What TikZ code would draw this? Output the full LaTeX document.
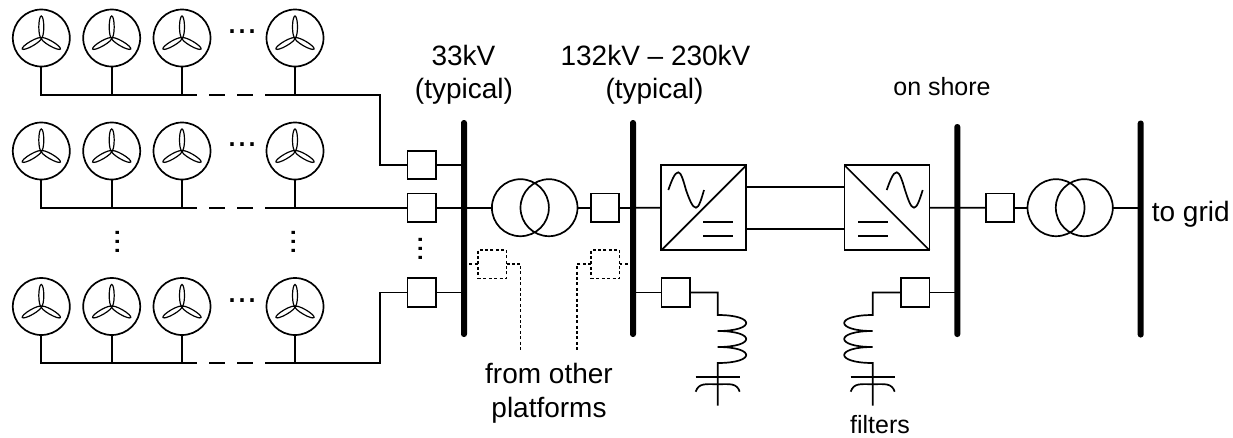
\documentclass[tikz,border=0pt]{standalone}
\usepackage{fontspec}
\setmainfont{Liberation Sans}
\usetikzlibrary{positioning,calc}

\begin{document}
\begin{tikzpicture}[x=1pt, y=-1pt, line width=1.7pt,
  wtg/.style={circle, draw, minimum size=57pt, inner sep=0pt, outer sep=0pt},
  blade/.style={line width=1.2pt},
  brk/.style={rectangle, draw, minimum size=28.5pt, inner sep=0pt, outer sep=0pt},
  brkoff/.style={brk, otherline},
  otherline/.style={dash pattern=on 3pt off 2.4pt, line width=1.5pt},
  xfmr/.style={circle, draw, minimum size=57pt, inner sep=0pt, outer sep=0pt},
  conv/.style={rectangle, draw, minimum size=85pt, inner sep=0pt, outer sep=0pt},
  busbar/.style={rectangle, fill=black, rounded corners=2.8pt, minimum width=6pt, inner sep=0pt, outer sep=0pt},
  lab/.style={inner sep=0pt, font=\fontsize{28}{28}\selectfont},
  labsm/.style={inner sep=0pt, font=\fontsize{25}{25}\selectfont},
  hdots/.style={inner sep=0pt, anchor=base, font=\fontsize{36}{36}\selectfont},
  vdots/.style={inner sep=0pt, anchor=base, rotate=90, font=\fontsize{33}{33}\selectfont}]
\useasboundingbox (0,0) rectangle (1233,437);

% ---- wind turbine rows
\foreach \r/\y/\b in {1/38/94.7, 2/151/207.7, 3/306.5/363} {
  \foreach \c/\x in {1/41.3, 2/111.7, 3/182, 4/295} {
    \node[wtg] (w\r\c) at (\x,\y) {};
    \foreach \a in {90,210,330}
      \draw[blade] ($(w\r\c.center)+(\a:11pt)$) circle [x radius=11pt, y radius=2.5pt, rotate=\a];
  }
  \coordinate (fl\r) at (197,\b);
  \coordinate (fr\r) at (266,\b);
  \node[hdots] (dots\r) at (242,\y-4.5) {...};
  \draw (w\r1.south) |- (fl\r);
  \draw (w\r2.south) -- (w\r2.south |- fl\r);
  \draw (w\r3.south) -- (w\r3.south |- fl\r);
  \draw (w\r4.south) -- (w\r4.south |- fr\r);
  \draw[dash pattern=on 16pt off 12pt, dash phase=16pt] (fl\r) -- (fr\r);
}
\node[vdots] (dv1) at (119.4,242) {...};
\node[vdots] (dv2) at (295.4,242) {...};
\node[vdots] (dv3) at (422.7,249) {...};

% ---- buses
\node[busbar, minimum height=217pt] (bus1) at (464,228.5) {};
\node[busbar, minimum height=217pt] (bus2) at (633,228.5) {};
\node[busbar, minimum height=213pt] (bus3) at (957.3,230.5) {};
\node[busbar, minimum height=217pt] (bus4) at (1140.7,229) {};

% ---- platform side
\node[brk] (cb1) at (421.7,165) {};
\node[brk] (cb2) at (421.7,207.7) {};
\node[brk] (cb3) at (421.7,292.5) {};
\coordinate (j1) at (379.7,165);
\coordinate (j3) at (379.7,292.5);
\draw (fr1) -| (j1) -- (cb1.west);
\draw (fr2) -- (cb2.west);
\draw (fr3) -| (j3) -- (cb3.west);
\draw (cb1.east) -- (cb1 -| bus1);
\draw (cb2.east) -- (cb2 -| bus1);
\draw (cb3.east) -- (cb3 -| bus1);

\node[xfmr] (t1a) at (520.4,207.7) {};
\node[xfmr] (t1b) at (549,207.7) {};
\node[brk] (cb4) at (605,207.7) {};
\draw (cb2 -| bus1) -- (t1a.west);
\draw (t1b.east) -- (cb4.west);
\draw (cb4.east) -- (cb4 -| bus2);

% ---- converters and dc link
\node[conv] (vsc1) at (703.8,207.8) {};
\node[conv] (vsc2) at (887,207.8) {};
\draw (cb4 -| bus2) -- (vsc1.west);
\draw (vsc1.south west) -- (vsc1.north east);
\draw (vsc2.north west) -- (vsc2.south east);
\coordinate (dc1) at (746.3,186.7);
\coordinate (dc2) at (746.3,228.7);
\draw (dc1) -- (dc1 -| vsc2.west);
\draw (dc2) -- (dc2 -| vsc2.west);
\draw (vsc1.center) ++(-35.5,-17.8) sin ++(10,-17.7) cos ++(7.7,17.7) sin ++(10,17.7) cos ++(8,-17.7);
\draw (vsc1.center) ++(-0.5,13.9) -- ++(29.4,0);
\draw (vsc1.center) ++(-0.5,27.9) -- ++(29.4,0);
\draw (vsc2.center) ++(-0.3,-17.8) sin ++(10,-17.7) cos ++(8.3,17.7) sin ++(9,17.7) cos ++(8.7,-17.7);
\draw (vsc2.center) ++(-28.7,13.9) -- ++(29.4,0);
\draw (vsc2.center) ++(-28.7,28.2) -- ++(29.4,0);

% ---- on shore
\node[brk] (cb5) at (1000,207.7) {};
\node[xfmr] (t2a) at (1056,207.7) {};
\node[xfmr] (t2b) at (1084.3,207.7) {};
\draw (vsc2.east) -- (cb5.west);
\draw (cb5.east) -- (t2a.west);
\draw (t2b.east) -- (t2b -| bus4);

% ---- filters
\node[brk] (cb6) at (675.7,292.5) {};
\coordinate (l1) at (717.7,315);
\coordinate (c1) at (717.7,376.7);
\coordinate (e1) at (717.7,405.5);
\draw (cb6 -| bus2) -- (cb6.west);
\draw (cb6.east) -| (l1)
  .. controls +(38,0) and +(38,0) .. ++(0,16)
  .. controls +(38,0) and +(38,0) .. ++(0,16)
  .. controls +(38,0) and +(38,0) .. ++(0,16)
  -- (e1);
\draw (c1) ++(-22,0) -- ++(44,0);
\draw (c1) ++(-22,15) .. controls +(3,-9) and +(-12,0) .. ++(22,-7.5)
  .. controls +(12,0) and +(-3,-9) .. ++(22,7.5);

\node[brk] (cb7) at (915.3,292.5) {};
\coordinate (l2) at (872.7,315);
\coordinate (c2) at (872.7,376.7);
\coordinate (e2) at (872.7,405.5);
\draw (cb7 -| bus3) -- (cb7.east);
\draw (cb7.west) -| (l2)
  .. controls +(-38,0) and +(-38,0) .. ++(0,16)
  .. controls +(-38,0) and +(-38,0) .. ++(0,16)
  .. controls +(-38,0) and +(-38,0) .. ++(0,16)
  -- (e2);
\draw (c2) ++(-22,0) -- ++(44,0);
\draw (c2) ++(-22,15) .. controls +(3,-9) and +(-12,0) .. ++(22,-7.5)
  .. controls +(12,0) and +(-3,-9) .. ++(22,7.5);

% ---- other platforms, dashed
\node[brkoff] (cb8) at (492.3,264) {};
\node[brkoff] (cb9) at (605.3,264) {};
\coordinate (o1) at (520.7,350);
\coordinate (o2) at (577,350);
\draw[otherline] (cb8 -| bus1) -- (cb8.west);
\draw[otherline] (cb8.east) -| (o1);
\draw[otherline] (cb9 -| bus2) -- (cb9.east);
\draw[otherline] (cb9.west) -| (o2);

% ---- labels
\node[lab] (v1) at (463.5,55) {33kV};
\node[lab] (v1t) at (464,91.5) {(typical)};
\node[lab] (v2) at (655.5,55) {132kV -- 230kV};
\node[lab] (v2t) at (654.5,91.5) {(typical)};
\node[labsm] (shore) at (942,87) {on shore};
\node[lab] (from) at (549,373) {from other};
\node[lab] (plat) at (549,410) {platforms};
\node[labsm] (filt) at (880,425) {filters};
\node[lab, anchor=west] (grid) at (1151,214) {to grid};
\end{tikzpicture}
\end{document}
